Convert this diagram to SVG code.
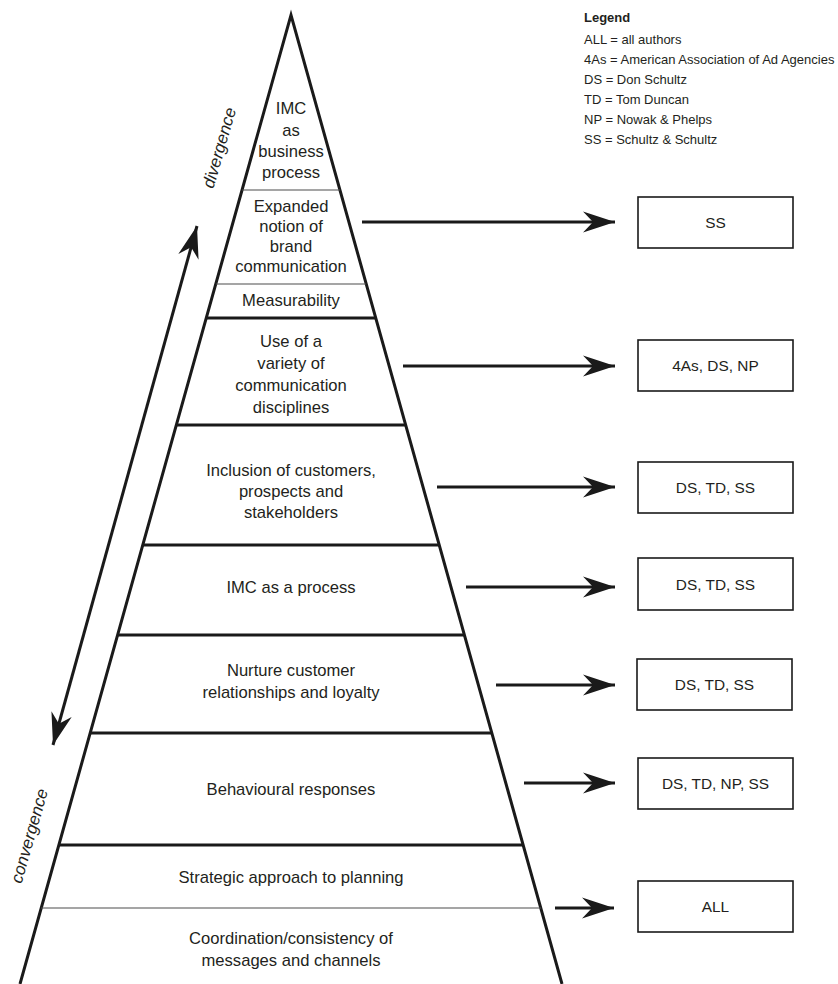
<svg xmlns="http://www.w3.org/2000/svg" width="838" height="984" viewBox="0 0 838 984">
  <style>
    .t { font-family: "Liberation Sans", Arial, sans-serif; font-size: 16.6px; fill: #231f20; text-anchor: middle; }
    .bx { font-family: "Liberation Sans", Arial, sans-serif; font-size: 15.4px; fill: #231f20; text-anchor: middle; }
    .lg { font-family: "Liberation Sans", Arial, sans-serif; font-size: 13px; fill: #231f20; }
    .side { font-family: "Liberation Sans", Arial, sans-serif; font-size: 17px; font-style: italic; fill: #231f20; text-anchor: middle; }
    .edge { fill: none; stroke: #1a1a1a; stroke-width: 3; stroke-linejoin: miter; }
    .thick { stroke: #1a1a1a; stroke-width: 3; }
    .thin { stroke: #4d4d4d; stroke-width: 1.2; }
    .box { fill: #ffffff; stroke: #1a1a1a; stroke-width: 1.6; }
    .arr { fill: none; stroke: #1a1a1a; stroke-width: 3; marker-end: url(#head); }
  </style>
  <defs>
    <marker id="head" markerUnits="userSpaceOnUse" markerWidth="34" markerHeight="24" viewBox="-33 -12 34 24" refX="0" refY="0" orient="auto-start-reverse">
      <path d="M0,0 L-32,-10.5 L-22,0 L-32,10.5 Z" fill="#1a1a1a"/>
    </marker>
  </defs>
  <rect width="838" height="984" fill="#ffffff"/>

  <!-- pyramid outline -->
  <path id="pyramid" class="edge" d="M20,984 L291,15 L562,984"/>

  <!-- tier dividers -->
  <g id="dividers">
    <line class="thin" x1="242" y1="190" x2="340" y2="190"/>
    <line class="thin" x1="216" y1="284" x2="366" y2="284"/>
    <line class="thick" x1="206" y1="318" x2="376" y2="318"/>
    <line class="thick" x1="176" y1="425" x2="406" y2="425"/>
    <line class="thick" x1="143" y1="545" x2="439" y2="545"/>
    <line class="thick" x1="118" y1="635" x2="464" y2="635"/>
    <line class="thick" x1="90" y1="733" x2="492" y2="733"/>
    <line class="thick" x1="59" y1="845" x2="523" y2="845"/>
    <line class="thin" x1="41" y1="908" x2="541" y2="908"/>
  </g>

  <!-- tier labels -->
  <g id="tier-business-process">
    <text class="t" x="291" y="114">IMC</text>
    <text class="t" x="291" y="136">as</text>
    <text class="t" x="291" y="157">business</text>
    <text class="t" x="291" y="178">process</text>
  </g>
  <g id="tier-brand-communication">
    <text class="t" x="291" y="212">Expanded</text>
    <text class="t" x="291" y="232">notion of</text>
    <text class="t" x="291" y="252">brand</text>
    <text class="t" x="291" y="272">communication</text>
  </g>
  <g id="tier-measurability">
    <text class="t" x="291" y="306">Measurability</text>
  </g>
  <g id="tier-disciplines">
    <text class="t" x="291" y="347">Use of a</text>
    <text class="t" x="291" y="369">variety of</text>
    <text class="t" x="291" y="391">communication</text>
    <text class="t" x="291" y="413">disciplines</text>
  </g>
  <g id="tier-stakeholders">
    <text class="t" x="291" y="476">Inclusion of customers,</text>
    <text class="t" x="291" y="497">prospects and</text>
    <text class="t" x="291" y="518">stakeholders</text>
  </g>
  <g id="tier-process">
    <text class="t" x="291" y="593">IMC as a process</text>
  </g>
  <g id="tier-relationships">
    <text class="t" x="291" y="676">Nurture customer</text>
    <text class="t" x="291" y="698">relationships and loyalty</text>
  </g>
  <g id="tier-behavioural">
    <text class="t" x="291" y="795">Behavioural responses</text>
  </g>
  <g id="tier-strategic">
    <text class="t" x="291" y="883">Strategic approach to planning</text>
  </g>
  <g id="tier-coordination">
    <text class="t" x="291" y="944">Coordination/consistency of</text>
    <text class="t" x="291" y="966">messages and channels</text>
  </g>

  <!-- side labels -->
  <g id="label-divergence">
    <text class="side" transform="translate(220,148) rotate(-74)" x="0" y="5">divergence</text>
  </g>
  <g id="label-convergence">
    <text class="side" transform="translate(30,836) rotate(-74)" x="0" y="5">convergence</text>
  </g>

  <!-- author boxes -->
  <g id="box-ss">
    <rect class="box" x="638" y="197" width="155" height="51"/>
    <text class="bx" x="715.5" y="228">SS</text>
  </g>
  <g id="box-4as-ds-np">
    <rect class="box" x="638" y="340" width="155" height="51"/>
    <text class="bx" x="715.5" y="371">4As, DS, NP</text>
  </g>
  <g id="box-ds-td-ss-1">
    <rect class="box" x="638" y="462" width="155" height="51"/>
    <text class="bx" x="715.5" y="493">DS, TD, SS</text>
  </g>
  <g id="box-ds-td-ss-2">
    <rect class="box" x="638" y="558" width="155" height="52"/>
    <text class="bx" x="715.5" y="590">DS, TD, SS</text>
  </g>
  <g id="box-ds-td-ss-3">
    <rect class="box" x="637" y="659" width="155" height="51"/>
    <text class="bx" x="714.5" y="690">DS, TD, SS</text>
  </g>
  <g id="box-ds-td-np-ss">
    <rect class="box" x="638" y="758" width="155" height="51"/>
    <text class="bx" x="715.5" y="789">DS, TD, NP, SS</text>
  </g>
  <g id="box-all">
    <rect class="box" x="638" y="881" width="155" height="51"/>
    <text class="bx" x="715.5" y="912">ALL</text>
  </g>

  <!-- connectors -->
  <g id="connectors">
    <line class="arr" x1="362" y1="222" x2="615" y2="222"/>
    <line class="arr" x1="403" y1="366" x2="615" y2="366"/>
    <line class="arr" x1="437" y1="487" x2="615" y2="487"/>
    <line class="arr" x1="466" y1="587" x2="615" y2="587"/>
    <line class="arr" x1="496" y1="685" x2="615" y2="685"/>
    <line class="arr" x1="524" y1="783" x2="615" y2="783"/>
    <line class="arr" x1="555" y1="908" x2="614" y2="908"/>
    <line class="arr" x1="197" y1="226" x2="53" y2="745" style="marker-start: url(#head);"/>
  </g>

  <!-- legend -->
  <g id="legend">
    <text class="lg" x="584" y="22" font-weight="bold">Legend</text>
    <text class="lg" x="584" y="44">ALL = all authors</text>
    <text class="lg" x="584" y="64">4As = American Association of Ad Agencies</text>
    <text class="lg" x="584" y="84">DS = Don Schultz</text>
    <text class="lg" x="584" y="104">TD = Tom Duncan</text>
    <text class="lg" x="584" y="124">NP = Nowak &amp; Phelps</text>
    <text class="lg" x="584" y="144">SS = Schultz &amp; Schultz</text>
  </g>
</svg>
